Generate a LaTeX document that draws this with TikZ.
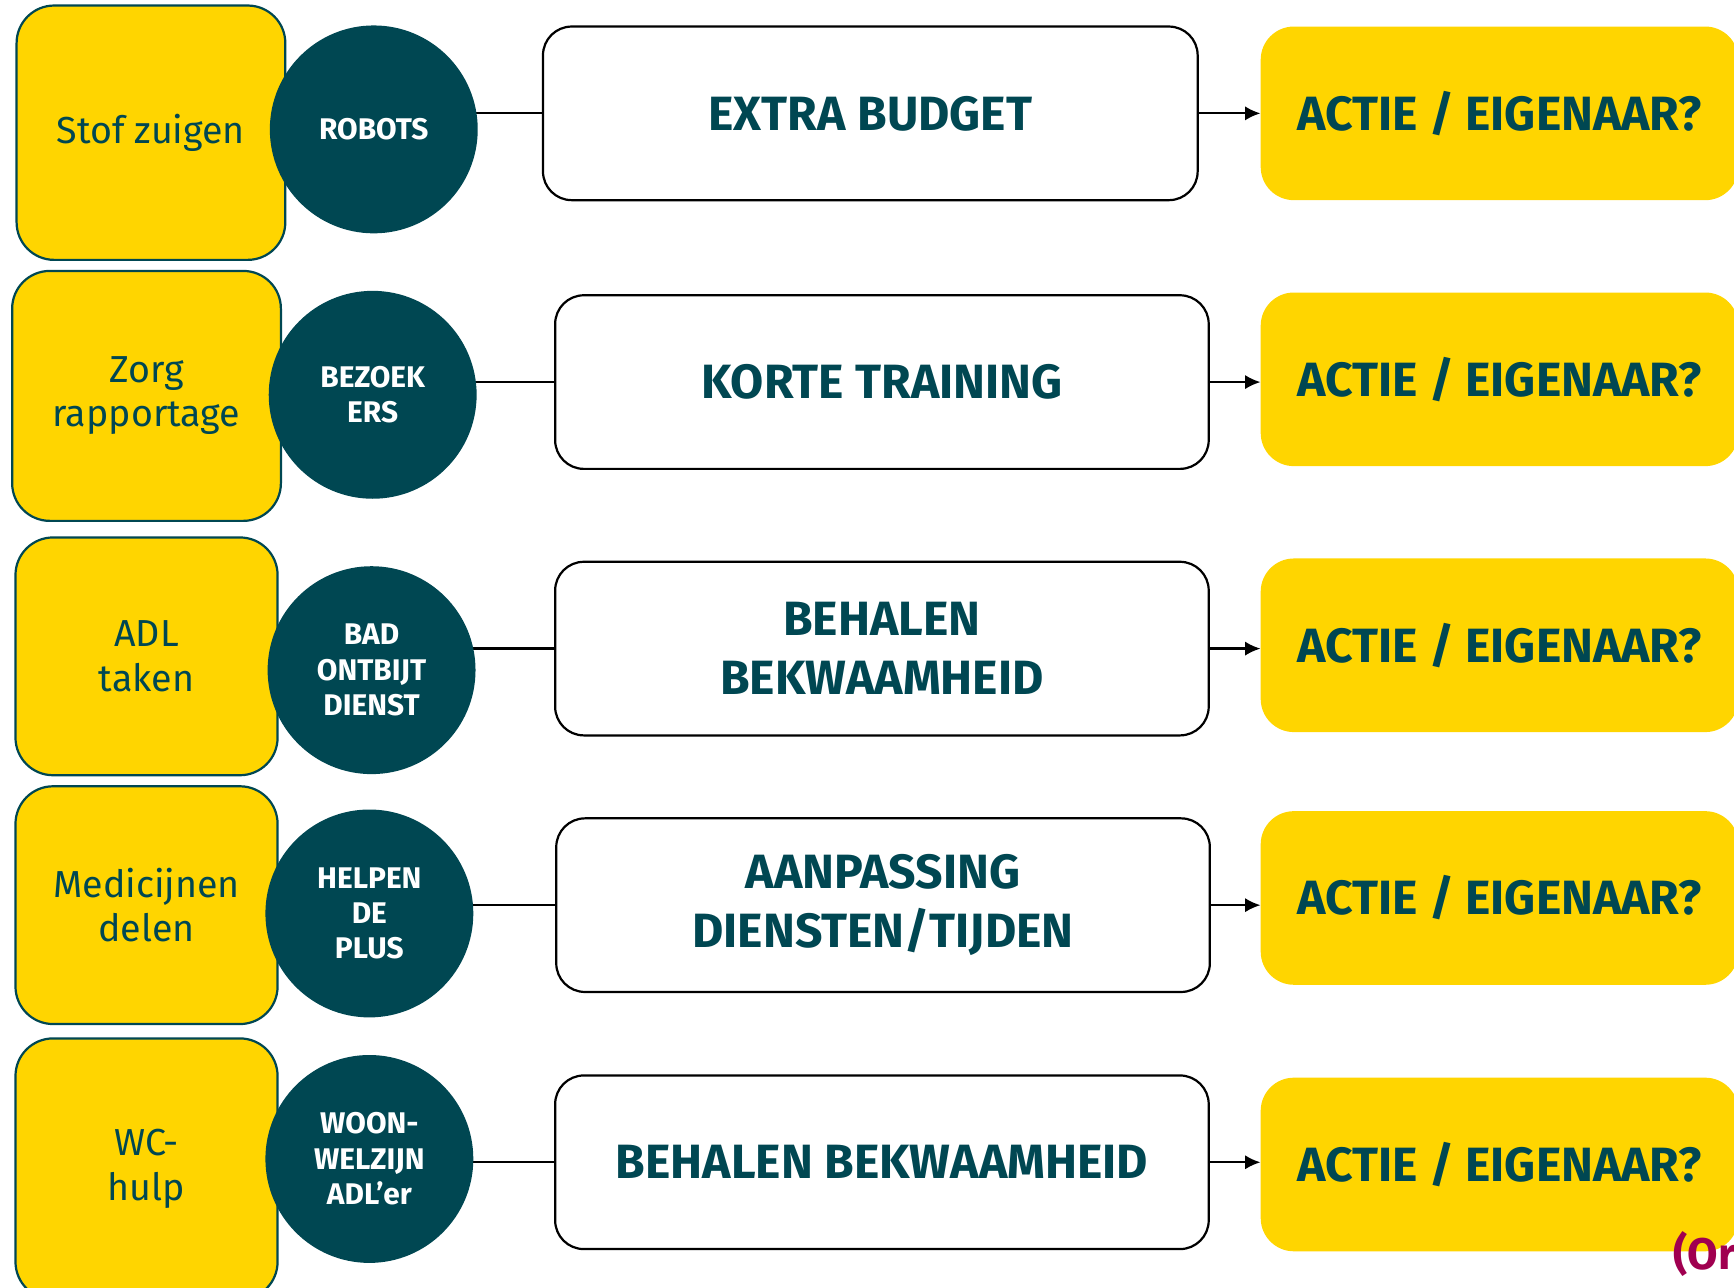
\documentclass[tikz,border=0pt]{standalone}
\usepackage{fontspec}
\setmainfont{Fira Sans}
\usetikzlibrary{arrows.meta,backgrounds}
\definecolor{ylw}{RGB}{255,213,0}
\definecolor{tealc}{RGB}{0,71,82}
\definecolor{mag}{RGB}{160,0,80}
\begin{document}
\begin{tikzpicture}[x=1pt,y=-1pt,
 leftbox/.style={rectangle, rounded corners=34pt, fill=ylw, draw=tealc, line width=2pt, text=tealc, align=center, font=\fontsize{34}{40}\selectfont, inner sep=0pt, minimum width=237pt},
 circ/.style={circle, fill=tealc, text=white, align=center, font=\bfseries\fontsize{27}{32}\selectfont, minimum size=188pt, inner sep=0pt},
 whitebox/.style={rectangle, rounded corners=26pt, draw=black, line width=2pt, fill=white, text=tealc, align=center, font=\bfseries\fontsize{43.5}{53}\selectfont, minimum width=591pt, minimum height=157pt, inner sep=0pt},
 actbox/.style={rectangle, rounded corners=30pt, fill=ylw, text=tealc, align=center, font=\bfseries\fontsize{43.5}{53}\selectfont, minimum width=432pt, minimum height=157pt, inner sep=0pt},
 conn/.style={line width=2pt, draw=black},
 arr/.style={line width=2pt, draw=black, -{Latex[length=14pt,width=13pt]}}
]
\useasboundingbox (0,0) rectangle (1568,1164);
\clip (0,0) rectangle (1568,1164);
% left boxes
\node[leftbox, minimum width=243pt, minimum height=230pt] (l1) at (136.5,120) {Stof zuigen};
\node[leftbox, minimum width=243pt, minimum height=226pt] (l2) at (132.5,358) {Zorg\\rapportage};
\node[leftbox, minimum height=215pt] (l3) at (132.5,593.5) {ADL\\taken};
\node[leftbox, minimum height=215pt] (l4) at (132.5,818.5) {Medicijnen\\delen};
\node[leftbox, minimum height=236pt] (l5) at (132.5,1057) {WC-\\hulp};
% white boxes
\node[whitebox, minimum width=592pt] (w1) at (787,102.5) {EXTRA BUDGET};
\node[whitebox] (w2) at (797.5,345.5) {KORTE TRAINING};
\node[whitebox] (w3) at (797.5,586.5) {BEHALEN\\BEKWAAMHEID};
\node[whitebox] (w4) at (798.5,818.5) {AANPASSING\\DIENSTEN/TIJDEN};
\node[whitebox] (w5) at (797.5,1051) {BEHALEN BEKWAAMHEID};
% action boxes
\node[actbox] (a1) at (1356,102.5) {ACTIE / EIGENAAR?};
\node[actbox] (a2) at (1356,343) {ACTIE / EIGENAAR?};
\node[actbox] (a3) at (1356,583.5) {ACTIE / EIGENAAR?};
\node[actbox] (a4) at (1356,812) {ACTIE / EIGENAAR?};
\node[actbox] (a5) at (1356,1053) {ACTIE / EIGENAAR?};
% circles
\node[circ] (c1) at (338,117) {ROBOTS};
\node[circ] (c2) at (337,357) {BEZOEK\\ERS};
\node[circ] (c3) at (336,606) {BAD\\ONTBIJT\\DIENST};
\node[circ] (c4) at (334,826) {HELPEN\\DE\\PLUS};
\node[circ] (c5) at (334,1048) {WOON-\\WELZIJN\\ADL’er};
% connectors
\begin{scope}[on background layer]
\foreach \i in {1,...,5}{
  \draw[conn] (c\i.center |- w\i.west) -- (w\i.west);
}
\end{scope}
\foreach \i in {1,...,5}{
  \draw[arr] (w\i.east) -- (a\i.west |- w\i.east);
}
\node[anchor=base west, inner sep=0pt, text=mag, font=\bfseries\fontsize{40}{48}\selectfont] (or) at (1513,1148) {(Or};
\end{tikzpicture}
\end{document}
